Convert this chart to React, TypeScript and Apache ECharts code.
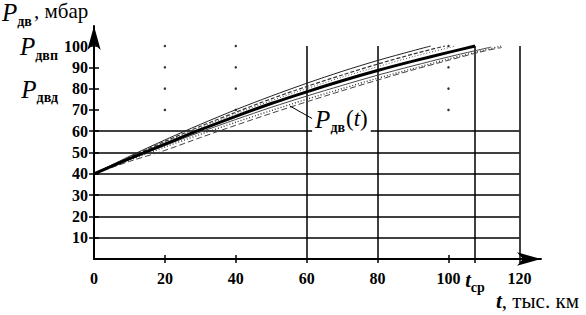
import React, { useEffect, useRef } from "react";
import * as echarts from "echarts";

const FONT = "'Liberation Serif', 'Times New Roman', serif";

// axis values
const xLabelValues = [0, 20, 40, 60, 80, 100, 107.5, 120];
const yLabelValues = [10, 20, 30, 40, 50, 60, 70, 80, 90, 100];
const xTickOut = [20, 40, 60, 80, 100, 107.5, 120];
const xTickIn = [20, 40, 100];
const tSr = 107.5;
const pLevelValues = [80, 100];
const pDvp = 100;

// grid lines
const hLines = [10, 20, 30, 40, 50, 60];
const vLines = [60, 80, 107.5, 120];

// dotted grid points
const dotT = [20, 20, 20, 20, 40, 40, 40, 40, 100, 100, 100, 100];
const dotP = [100, 90, 80, 70, 100, 90, 80, 70, 100, 90, 80, 70];

// curves P(t)
const tMain = [0, 10, 20, 30, 40, 50, 60, 70, 80, 90, 100, 107.5];
const pMain = [40, 47.1, 53.9, 60.7, 67.0, 73.0, 78.5, 83.7, 88.5, 92.9, 97.0, 100];
const tU1 = [0, 10, 20, 30, 40, 50, 60, 70, 80, 90, 95];
const pU1 = [40, 48.2, 55.9, 63.2, 70.1, 76.5, 82.5, 88.1, 93.2, 97.8, 100];
const tU2 = [0, 10, 20, 30, 40, 50, 60, 70, 80, 90, 99];
const pU2 = [40, 47.8, 55.2, 62.3, 68.9, 75.2, 81.0, 86.4, 91.5, 96.2, 100];
const tU3 = [0, 10, 20, 30, 40, 50, 60, 70, 80, 90, 102];
const pU3 = [40, 47.6, 54.8, 61.7, 68.2, 74.3, 80.0, 85.4, 90.3, 95.0, 100];
const tL2 = [0, 10, 20, 30, 40, 50, 60, 70, 80, 90, 100, 112];
const pL2 = [40, 46.8, 53.3, 59.6, 65.5, 71.2, 76.5, 81.5, 86.3, 90.7, 94.9, 99.5];
const tL1 = [0, 10, 20, 30, 40, 50, 60, 70, 80, 90, 100, 110, 115];
const pL1 = [40, 46.4, 52.6, 58.5, 64.2, 69.7, 75.0, 80.0, 84.9, 89.4, 93.9, 98.0, 100];
const tL0 = [0, 10, 20, 30, 40, 50, 60, 70, 80, 90, 100, 110, 115];
const pL0 = [40, 45.8, 51.0, 57.0, 62.8, 68.4, 73.8, 79.0, 84.0, 88.8, 93.3, 97.6, 99.3];

// annotation anchor
const annotPoint = [69.8, 65.3];
const leaderFrom = [55.3, 71.8];
const leaderTo = [61.9, 65.6];

const XMAX = 126.1;
const YMAX = 109.4;

const zip = (t: number[], p: number[]) => t.map((x, i) => [x, p[i]]);

const curveDefs = [
  { t: tU1, p: pU1, color: "#222", width: 1, type: "solid" as any },
  { t: tU2, p: pU2, color: "#333", width: 1.2, type: [4, 2] as any },
  { t: tU3, p: pU3, color: "#555", width: 1, type: [1, 2] as any },
  { t: tL2, p: pL2, color: "#444", width: 1, type: "solid" as any },
  { t: tL1, p: pL1, color: "#333", width: 1.4, type: [1, 2] as any },
  { t: tL0, p: pL0, color: "#444", width: 1, type: [6, 3] as any },
];

const numStyle = { fontSize: 16, fontWeight: "bold", fontFamily: FONT, color: "#000" };

export default function App() {
  const ref = useRef<HTMLDivElement>(null);
  useEffect(() => {
    const chart = echarts.init(ref.current!, null, { renderer: "svg" });
    const lineSeries: any[] = curveDefs.map((c) => ({
      type: "line",
      data: zip(c.t, c.p),
      symbol: "none",
      smooth: 0.3,
      z: 3,
      lineStyle: { color: c.color, width: c.width, type: c.type },
    }));
    const hiddenAxis = {
      splitLine: { show: false },
      axisLine: { show: false },
    };
    const option: any = {
      animation: false,
      backgroundColor: "#fff",
      textStyle: { fontFamily: FONT },
      grid: { left: 94, right: 45, top: 26, bottom: 56, containLabel: false },
      xAxis: [
        {
          type: "value",
          min: 0,
          max: XMAX,
          splitLine: { show: false },
          axisLine: {
            show: true,
            symbol: ["none", "arrow"],
            symbolSize: [10, 24],
            lineStyle: { color: "#000", width: 2 },
          },
          axisTick: {
            show: true,
            customValues: xTickOut,
            length: 4,
            lineStyle: { color: "#000", width: 1.5 },
          },
          axisLabel: {
            customValues: xLabelValues,
            showMaxLabel: true,
            showMinLabel: true,
            hideOverlap: false,
            margin: 11,
            ...numStyle,
            formatter: (v: number) => (v === tSr ? "{t|t}{s|ср}" : String(v)),
            rich: {
              t: { fontSize: 20, fontStyle: "italic", fontWeight: "bold", fontFamily: FONT, color: "#000", lineHeight: 18, verticalAlign: "top" },
              s: { fontSize: 14, fontWeight: "bold", fontFamily: FONT, color: "#000", lineHeight: 13, padding: [10, 0, 0, 0], verticalAlign: "top" },
            },
          },
        },
        {
          type: "value",
          min: 0,
          max: XMAX,
          position: "bottom",
          ...hiddenAxis,
          axisLabel: { show: false },
          axisTick: {
            show: true,
            inside: true,
            customValues: xTickIn,
            length: 4,
            lineStyle: { color: "#000", width: 1.5 },
          },
        },
      ],
      yAxis: [
        {
          type: "value",
          min: 0,
          max: YMAX,
          splitLine: { show: false },
          axisLine: {
            show: true,
            symbol: ["none", "arrow"],
            symbolSize: [10, 24],
            lineStyle: { color: "#000", width: 2 },
          },
          axisTick: {
            show: true,
            customValues: yLabelValues,
            length: 5,
            lineStyle: { color: "#000", width: 1.5 },
          },
          axisLabel: {
            customValues: yLabelValues,
            showMaxLabel: true,
            showMinLabel: true,
            margin: 6,
            ...numStyle,
          },
        },
        {
          type: "value",
          min: 0,
          max: YMAX,
          position: "left",
          ...hiddenAxis,
          axisLabel: { show: false },
          axisTick: {
            show: true,
            inside: true,
            customValues: yLabelValues,
            length: 5,
            lineStyle: { color: "#000", width: 1.5 },
          },
        },
        {
          type: "value",
          min: 0,
          max: YMAX,
          position: "left",
          ...hiddenAxis,
          axisTick: { show: false },
          axisLabel: {
            customValues: pLevelValues,
            showMaxLabel: true,
            showMinLabel: true,
            margin: 36,
            formatter: (v: number) => (v === pDvp ? "{P|P}{s|двп}" : "{P|P}{s|двд}"),
            rich: {
              P: { fontSize: 25, fontStyle: "italic", fontFamily: FONT, color: "#000", lineHeight: 24, verticalAlign: "top" },
              s: { fontSize: 14, fontWeight: "bold", fontFamily: FONT, color: "#000", lineHeight: 13, padding: [14, 0, 0, 0], verticalAlign: "top" },
            },
          },
        },
      ],
      graphic: [
        {
          type: "text",
          left: 2,
          top: 0,
          style: {
            text: "{P|P}{s|дв}{n|, мбар}",
            rich: {
              P: { fontSize: 25, fontStyle: "italic", fontFamily: FONT, fill: "#000", lineHeight: 24, verticalAlign: "top" },
              s: { fontSize: 14, fontWeight: "bold", fontFamily: FONT, fill: "#000", lineHeight: 13, padding: [14, 2, 0, 0], verticalAlign: "top" },
              n: { fontSize: 21, fontFamily: FONT, fill: "#000", lineHeight: 24, verticalAlign: "top" },
            },
          },
        },
        {
          type: "text",
          left: 496,
          top: 290,
          style: {
            text: "{t|t}{n|, тыс. км}",
            rich: {
              t: { fontSize: 21, fontStyle: "italic", fontWeight: "bold", fontFamily: FONT, fill: "#000", lineHeight: 22 },
              n: { fontSize: 21, fontFamily: FONT, fill: "#000", lineHeight: 22 },
            },
          },
        },
      ],
      series: [
        {
          type: "scatter",
          data: zip(dotT, dotP),
          symbolSize: 2.5,
          itemStyle: { color: "#000" },
          z: 1,
          silent: true,
          markLine: {
            silent: true,
            z: 1,
            symbol: ["none", "none"],
            label: { show: false },
            lineStyle: { color: "#000", width: 1.5, type: "solid" },
            data: [
              ...hLines.map((v) => [{ coord: [0, v] }, { coord: [120, v] }]),
              ...vLines.map((t) => [{ coord: [t, 0] }, { coord: [t, 100] }]),
            ],
          },
        },
        ...lineSeries,
        {
          type: "line",
          data: zip(tMain, pMain),
          symbol: "none",
          smooth: 0.3,
          z: 4,
          lineStyle: { color: "#000", width: 3 },
          markLine: {
            silent: true,
            z: 10,
            symbol: ["none", "none"],
            label: { show: false },
            lineStyle: { color: "#000", width: 1, type: "solid" },
            data: [[{ coord: leaderFrom }, { coord: leaderTo }]],
          },
          markPoint: {
            z: 10,
            symbol: "rect",
            symbolSize: 0,
            data: [{ coord: annotPoint }],
            label: {
              show: true,
              position: "inside",
              backgroundColor: "#fff",
              padding: [0, 3],
              formatter: "{P|P}{s|дв}{n|(}{t|t}{n|)}",
              rich: {
                P: { fontSize: 25, fontStyle: "italic", fontFamily: FONT, color: "#000", lineHeight: 26, verticalAlign: "top" },
                s: { fontSize: 14, fontWeight: "bold", fontFamily: FONT, color: "#000", lineHeight: 13, padding: [14, 1, 0, 0], verticalAlign: "top" },
                n: { fontSize: 23, fontFamily: FONT, color: "#000", lineHeight: 26, verticalAlign: "top" },
                t: { fontSize: 23, fontStyle: "italic", fontFamily: FONT, color: "#000", lineHeight: 26, verticalAlign: "top" },
              },
            },
          },
        },
      ],
    };
    chart.setOption(option);
    return () => chart.dispose();
  }, []);
  return (
    <div
      ref={ref}
      style={{ position: "fixed", left: 0, top: 0, width: 586, height: 315, background: "#fff" }}
    />
  );
}
